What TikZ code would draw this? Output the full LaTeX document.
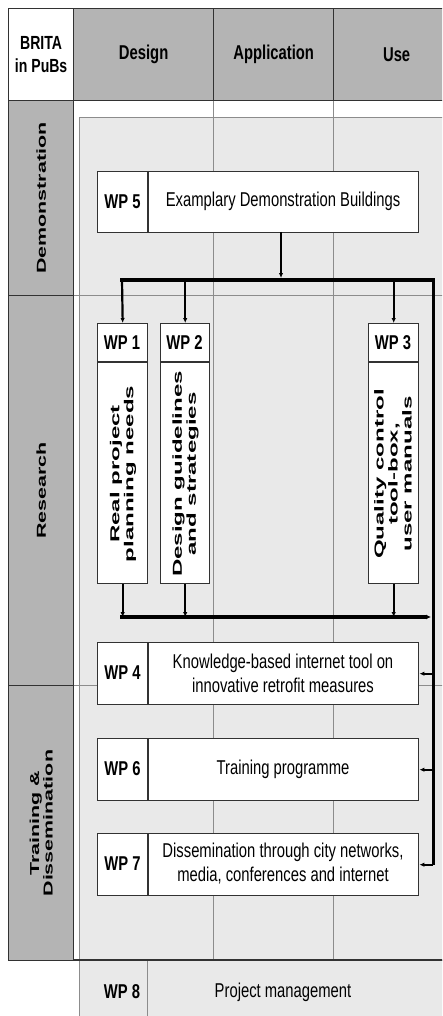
\documentclass[tikz,border=0pt]{standalone}
\usepackage{fontspec}
\setmainfont{Liberation Sans}
\newfontfamily\cf[FakeStretch=0.74]{Liberation Sans}
\newfontfamily\wf[FakeStretch=1.85]{Liberation Sans}
\newfontfamily\lf[FakeStretch=1.65]{Liberation Sans}
\usetikzlibrary{arrows.meta}
\definecolor{hdr}{RGB}{180,180,180}
\definecolor{inner}{RGB}{233,233,233}
\definecolor{gridc}{RGB}{140,140,140}
\definecolor{edge}{RGB}{50,50,50}
\begin{document}
\begin{tikzpicture}[x=1pt,y=-1pt,
  hdrtxt/.style={font=\cf\bfseries\fontsize{20}{23}\selectfont, align=center, inner sep=0pt},
  boxtxt/.style={font=\cf\fontsize{20}{24}\selectfont, align=center, inner sep=0pt},
  wplab/.style={font=\cf\bfseries\fontsize{20}{22}\selectfont, inner sep=0pt},
  vtxt/.style={font=\wf\bfseries\fontsize{13}{14}\selectfont, align=center, rotate=90, inner sep=0pt},
  ltxt/.style={font=\lf\bfseries\fontsize{13}{13.5}\selectfont, align=center, rotate=90, inner sep=0pt},
  cell/.style={draw=edge, line width=1.3pt, anchor=north west, inner sep=0pt},
  wpbox/.style={draw=edge, line width=1.4pt, fill=white, anchor=north west, inner sep=0pt},
  bus/.style={line width=3.6pt, draw=black},
  rail/.style={line width=3pt, draw=black},
  feed/.style={line width=2.2pt, draw=black, -{Latex[length=5pt,width=4.5pt]}},
  gridline/.style={draw=gridc, line width=0.7pt},
]
\useasboundingbox (0,0) rectangle (442,1016);
\clip (0,0) rectangle (442,1016);
\fill[white] (0,0) rectangle (442,1016);

% main area background
\fill[white] (73,100) rectangle (470,960);
\filldraw[fill=inner, draw=gridc, line width=0.8pt] (79,117) rectangle (470,960);
% WP8 row
\filldraw[fill=inner, draw=gridc, line width=0.8pt] (79,960) rectangle (470,1030);
\draw[gridline] (147,960) -- (147,1030);

% grid lines
\draw[gridline] (213,100) -- (213,960);
\draw[gridline] (333,100) -- (333,960);
\draw[gridline] (73,295) -- (470,295);
\draw[gridline] (73,685) -- (470,685);
\draw[edge, line width=1.3pt] (8,960) -- (470,960);

% header row
\node[cell, fill=white, minimum width=65pt, minimum height=92pt] (brita) at (8,8) {};
\node[cell, fill=hdr, minimum width=140pt, minimum height=92pt] (design) at (73,8) {};
\node[cell, fill=hdr, minimum width=120pt, minimum height=92pt] (appl) at (213,8) {};
\node[cell, fill=hdr, minimum width=126pt, minimum height=92pt] (use) at (333,8) {};
\node[hdrtxt, font=\cf\bfseries\fontsize{19}{23}\selectfont] (britat) at (brita.center) {BRITA\\in PuBs};
\node[hdrtxt] (designt) at (design.center) {Design};
\node[hdrtxt] (applt) at (appl.center) {Application};
\node[hdrtxt] (uset) at (use.center) {Use};

% left column
\node[cell, fill=hdr, minimum width=65pt, minimum height=195pt] (demo) at (8,100) {};
\node[cell, fill=hdr, minimum width=65pt, minimum height=390pt] (res) at (8,295) {};
\node[cell, fill=hdr, minimum width=65pt, minimum height=275pt] (train) at (8,685) {};
\node[ltxt] (demot) at (demo.center) {Demonstration};
\node[ltxt] (rest) at (res.center) {Research};
\node[ltxt] (traint) at (train.center) {Training \&\\Dissemination};

% WP5
\node[wpbox, minimum width=321pt, minimum height=61pt] (wp5) at (97,171) {};
\draw[edge, line width=1.2pt] (148,171) -- (148,232);
\node[wplab] (wp5l) at (122.5,201.5) {WP 5};
\node[boxtxt] (wp5t) at (283,201.5) {Examplary Demonstration Buildings};

% WP1-3
\node[wpbox, minimum width=50pt, minimum height=260pt] (wp1) at (97,323) {};
\node[wpbox, minimum width=49pt, minimum height=260pt] (wp2) at (160,323) {};
\node[wpbox, minimum width=50pt, minimum height=260pt] (wp3) at (368,323) {};
\draw[edge, line width=1.2pt] (97,362) -- (147,362);
\draw[edge, line width=1.2pt] (160,362) -- (209,362);
\draw[edge, line width=1.2pt] (368,362) -- (418,362);
\node[wplab] (wp1l) at (122,343) {WP 1};
\node[wplab] (wp2l) at (184.5,343) {WP 2};
\node[wplab] (wp3l) at (393,343) {WP 3};
\node[vtxt] (wp1t) at (123,474) {Real project\\planning needs};
\node[vtxt] (wp2t) at (185.5,474) {Design guidelines\\and strategies};
\node[vtxt] (wp3t) at (393,474) {Quality control\\tool-box,\\user manuals};

% WP4, 6, 7
\node[wpbox, minimum width=321pt, minimum height=62pt] (wp4) at (97,642) {};
\node[wpbox, minimum width=321pt, minimum height=62pt] (wp6) at (97,738) {};
\node[wpbox, minimum width=321pt, minimum height=62pt] (wp7) at (97,833) {};
\draw[edge, line width=1.2pt] (148,642) -- (148,704);
\draw[edge, line width=1.2pt] (148,738) -- (148,800);
\draw[edge, line width=1.2pt] (148,833) -- (148,895);
\node[wplab] (wp4l) at (122.5,673) {WP 4};
\node[wplab] (wp6l) at (122.5,769) {WP 6};
\node[wplab] (wp7l) at (122.5,864) {WP 7};
\node[boxtxt] (wp4t) at (283,673) {Knowledge-based internet tool on\\innovative retrofit measures};
\node[boxtxt] (wp6t) at (283,769) {Training programme};
\node[boxtxt] (wp7t) at (283,864) {Dissemination through city networks,\\media, conferences and internet};

% WP8
\node[wplab] (wp8l) at (122,992) {WP 8};
\node[boxtxt] (wp8t) at (283,992) {Project management};

% connectors
\coordinate (tl) at (122,280);
\coordinate (tr) at (433,280);
\coordinate (rb) at (433,865);
\coordinate (bl) at (122,617);
\coordinate (br) at (431,617);
\coordinate (wp5in) at (281,278);
\draw[feed, line width=2pt] (281,232) -- (wp5in);
\draw[rail] (433,278.2) -- (rb);
\draw[bus] (120.2,280) -- (tr);
\draw[feed] (tl) -- (wp1.north);
\draw[feed] (wp2.north |- tl) -- (wp2.north);
\draw[feed] (wp3.north |- tl) -- (wp3.north);
\draw[feed] (wp1.south) -- (wp1.south |- bl);
\draw[feed] (wp2.south) -- (wp2.south |- bl);
\draw[feed] (wp3.south) -- (wp3.south |- bl);
\draw[bus, -{Latex[length=5pt,width=5pt]}] (120.2,617) -- (br);
\draw[feed] (wp4.east -| rb) -- (wp4.east);
\draw[feed] (wp6.east -| rb) -- (wp6.east);
\draw[feed] (wp7.east -| rb) -- (wp7.east);
\end{tikzpicture}
\end{document}
